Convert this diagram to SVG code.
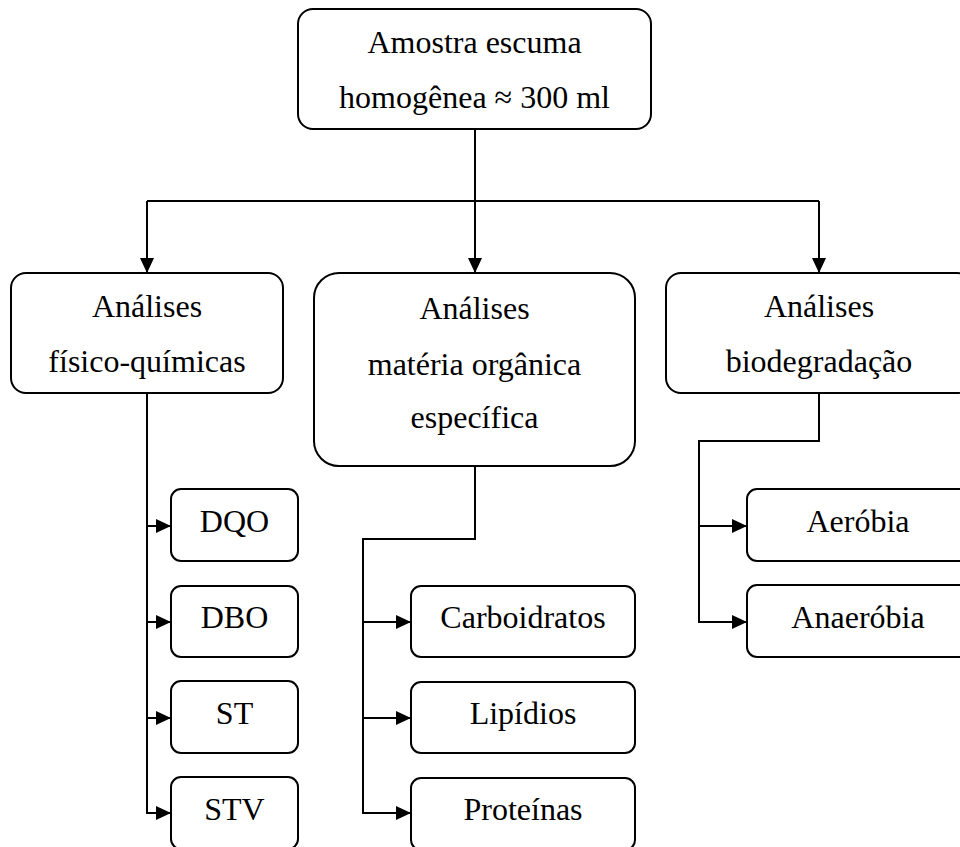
<svg xmlns="http://www.w3.org/2000/svg" width="960" height="847" viewBox="0 0 960 847">
<style>
.box{fill:#fff;stroke:#000;stroke-width:2}
.t{font-family:'Liberation Serif','Times New Roman',Times,'DejaVu Serif',serif;font-size:32px;fill:#000;text-anchor:middle}
.c{fill:none;stroke:#000;stroke-width:2}
</style>
<defs>
<marker id="ah" markerUnits="userSpaceOnUse" markerWidth="16" markerHeight="16" viewBox="0 0 16 16" refX="15" refY="8" orient="auto">
<path d="M0,1 L15,8 L0,15 Z" fill="#000"/>
</marker>
</defs>
<rect width="960" height="847" fill="#fff"/>
<g id="connectors">
<path class="c" d="M475 129 V201"/>
<path class="c" d="M147 201 H819"/>
<path class="c" d="M147 201 V273" marker-end="url(#ah)"/>
<path class="c" d="M475 201 V273" marker-end="url(#ah)"/>
<path class="c" d="M819 201 V273" marker-end="url(#ah)"/>
<path class="c" d="M147 393 V813"/>
<path class="c" d="M147 526 H171" marker-end="url(#ah)"/>
<path class="c" d="M147 622 H171" marker-end="url(#ah)"/>
<path class="c" d="M147 718 H171" marker-end="url(#ah)"/>
<path class="c" d="M146 813 H171" marker-end="url(#ah)"/>
<path class="c" d="M475 466 V539 H363 V813"/>
<path class="c" d="M363 622 H411" marker-end="url(#ah)"/>
<path class="c" d="M363 718 H411" marker-end="url(#ah)"/>
<path class="c" d="M362 813 H411" marker-end="url(#ah)"/>
<path class="c" d="M819 393 V441 H699 V622"/>
<path class="c" d="M699 526 H747" marker-end="url(#ah)"/>
<path class="c" d="M698 622 H747" marker-end="url(#ah)"/>
</g>
<g id="amostra">
<rect class="box" x="298" y="9" width="353" height="120" rx="15"/>
<text class="t" x="474.5" y="53">Amostra escuma</text>
<text class="t" x="474.5" y="108">homogênea ≈ 300 ml</text>
</g>
<g id="fisico">
<rect class="box" x="11" y="273" width="272" height="120" rx="15"/>
<text class="t" x="147" y="317">Análises</text>
<text class="t" x="147" y="372">físico-químicas</text>
</g>
<g id="materia">
<rect class="box" x="314" y="273" width="321" height="193" rx="25"/>
<text class="t" x="474.5" y="319">Análises</text>
<text class="t" x="474.5" y="375">matéria orgânica</text>
<text class="t" x="474.5" y="428">específica</text>
</g>
<g id="biodeg">
<rect class="box" x="666" y="273" width="306" height="120" rx="15"/>
<text class="t" x="819" y="317">Análises</text>
<text class="t" x="819" y="372">biodegradação</text>
</g>
<g id="dqo">
<rect class="box" x="171" y="489" width="127" height="72" rx="10"/>
<text class="t" x="234.5" y="532">DQO</text>
</g>
<g id="dbo">
<rect class="box" x="171" y="586" width="127" height="71" rx="10"/>
<text class="t" x="234.5" y="628">DBO</text>
</g>
<g id="st">
<rect class="box" x="171" y="681" width="127" height="72" rx="10"/>
<text class="t" x="234.5" y="724">ST</text>
</g>
<g id="stv">
<rect class="box" x="171" y="777" width="127" height="72" rx="10"/>
<text class="t" x="234.5" y="820">STV</text>
</g>
<g id="carboidratos">
<rect class="box" x="411" y="586" width="224" height="71" rx="10"/>
<text class="t" x="523" y="628">Carboidratos</text>
</g>
<g id="lipidios">
<rect class="box" x="411" y="682" width="224" height="71" rx="10"/>
<text class="t" x="523" y="724">Lipídios</text>
</g>
<g id="proteinas">
<rect class="box" x="411" y="778" width="224" height="72" rx="10"/>
<text class="t" x="523" y="820">Proteínas</text>
</g>
<g id="aerobia">
<rect class="box" x="747" y="489" width="222" height="72" rx="10"/>
<text class="t" x="858" y="532">Aeróbia</text>
</g>
<g id="anaerobia">
<rect class="box" x="747" y="585" width="222" height="72" rx="10"/>
<text class="t" x="858" y="628">Anaeróbia</text>
</g>
</svg>
